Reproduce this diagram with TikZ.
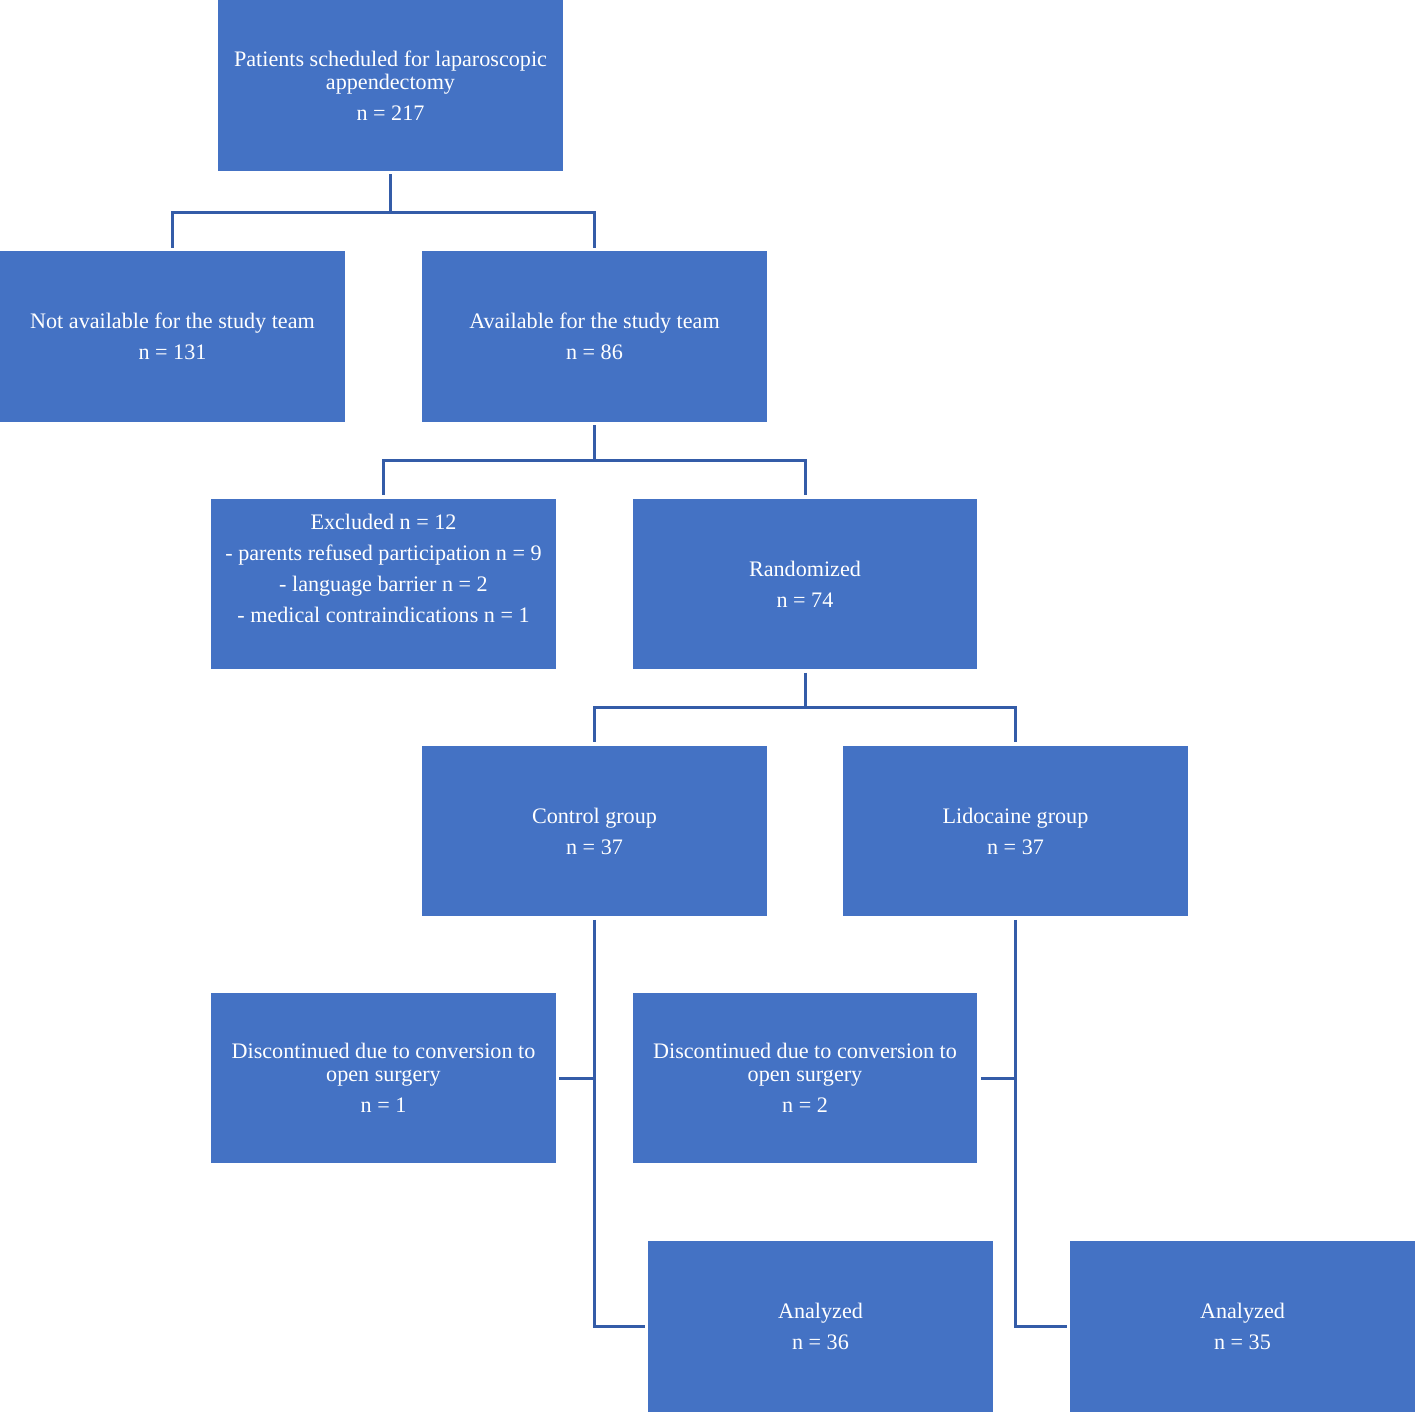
\documentclass[tikz,border=0pt]{standalone}
\usepackage{fontspec}
\setmainfont{Liberation Serif}
\usepackage{tikz}
\usetikzlibrary{positioning}
\definecolor{boxblue}{RGB}{68,114,196}
\definecolor{lineblue}{RGB}{52,92,168}

\begin{document}
\begin{tikzpicture}[%
    x=0.02cm,
    y=-0.02cm,
    stage/.style={%
      rectangle,
      fill=boxblue,
      text=white,
      minimum width=6.9cm,
      minimum height=3.42cm,
      inner sep=0pt,
      align=center,
      font=\fontsize{12.6}{13}\selectfont
    },
    link/.style={%
      draw=lineblue,
      line width=1.7pt,
      shorten <=0.06cm,
      shorten >=0.06cm
    }
  ]
    \useasboundingbox (0,0) rectangle (1415,1412);

    \node[stage] (all)  at (390.5,85.5)   {Patients scheduled for laparoscopic\\appendectomy\\[4.6pt]n = 217};
    \node[stage] (na)   at (172.5,336.5)  {Not available for the study team\\[4.6pt]n = 131};
    \node[stage] (av)   at (594.5,336.5)  {Available for the study team\\[4.6pt]n = 86};
    \node[stage] (ex)   at (383.5,584)    {Excluded n = 12\\[4.6pt]- parents refused participation n = 9\\[4.6pt]- language barrier n = 2\\[4.6pt]- medical contraindications n = 1\\[4.6pt]\mbox{}};
    \node[stage] (rnd)  at (805,584)      {Randomized\\[4.6pt]n = 74};
    \node[stage] (ctl)  at (594.5,831)    {Control group\\[4.6pt]n = 37};
    \node[stage] (lido) at (1015.5,831)   {Lidocaine group\\[4.6pt]n = 37};
    \node[stage] (dc1)  at (383.5,1078)   {Discontinued due to conversion to\\open surgery\\[4.6pt]n = 1};
    \node[stage] (dc2)  at (805,1078)     {Discontinued due to conversion to\\open surgery\\[4.6pt]n = 2};
    \node[stage] (an1)  at (820.5,1326.5) {Analyzed\\[4.6pt]n = 36};
    \node[stage] (an2)  at (1242.5,1326.5){Analyzed\\[4.6pt]n = 35};

    \draw[link] (all.south) -- ++(0,41) -| (na.north);
    \draw[link] (all.south) -- ++(0,41) -| (av.north);
    \draw[link] (av.south) -- ++(0,38) -| (ex.north);
    \draw[link] (av.south) -- ++(0,38) -| (rnd.north);
    \draw[link] (rnd.south) -- ++(0,38) -| (ctl.north);
    \draw[link] (rnd.south) -- ++(0,38) -| (lido.north);
    \draw[link] (ctl.south) |- (an1.west);
    \draw[link] (lido.south) |- (an2.west);
    \draw[link, shorten >=0pt] (dc1.east) -- (dc1.east -| ctl.south);
    \draw[link, shorten >=0pt] (dc2.east) -- (dc2.east -| lido.south);
  \end{tikzpicture}
\end{document}
